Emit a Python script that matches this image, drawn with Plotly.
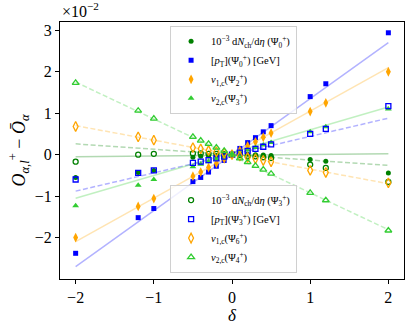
import plotly.graph_objects as go

# shift parameter delta and the response of each observable (units of 1e-2)
delta = [-2, -1.2, -1, -0.5, -0.4, -0.3, -0.2, -0.1, 0, 0.1, 0.2, 0.3, 0.4, 0.5, 1, 1.2, 2]

dndeta_psi0 = [-0.55, -0.43, -0.38, -0.06, -0.04, -0.03, -0.02, -0.01, 0, 0.01, 0.01, 0.0, -0.01, -0.02, -0.12, -0.16, -0.44]
pt_psi0 = [-2.38, -1.52, -1.30, -0.65, -0.55, -0.42, -0.28, -0.14, 0, 0.15, 0.29, 0.41, 0.55, 0.70, 1.40, 1.71, 2.94]
v1_psi2 = [-2.00, -1.25, -1.06, -0.52, -0.42, -0.31, -0.21, -0.10, 0, 0.10, 0.21, 0.31, 0.42, 0.52, 1.04, 1.25, 2.00]
v2_psi3 = [-1.23, -0.74, -0.60, -0.29, -0.23, -0.17, -0.11, -0.06, 0, 0.06, 0.11, 0.17, 0.23, 0.29, 0.55, 0.67, 1.10]

dndeta_psi3 = [-0.17, 0.0, 0.02, 0.03, 0.03, 0.02, 0.02, 0.01, 0, -0.01, -0.03, -0.04, -0.06, -0.08, -0.24, -0.32, -0.66]
pt_psi3 = [-0.60, -0.44, -0.38, -0.20, -0.17, -0.13, -0.09, -0.05, 0, 0.05, 0.09, 0.14, 0.19, 0.25, 0.50, 0.62, 1.17]
v1_psi6 = [0.68, 0.43, 0.35, 0.17, 0.14, 0.10, 0.07, 0.035, 0, -0.035, -0.07, -0.10, -0.14, -0.17, -0.38, -0.43, -0.68]
v2_psi4 = [1.73, 1.06, 0.87, 0.43, 0.34, 0.26, 0.17, 0.09, 0, -0.09, -0.18, -0.27, -0.36, -0.46, -0.92, -1.10, -1.83]

# linear response fits (slope, intercept)
fit_x = [-2, 2]
fits_filled = [(0.018, -0.015), (1.35, 0.0), (1.05, 0.0), (0.55, 0.05)]
fits_open = [(-0.13, 0.0), (0.44, 0.0), (-0.35, 0.0), (-0.89, -0.03)]

names_filled = [
    "10<sup>−3</sup> d<i>N</i><sub>ch</sub>/d<i>η</i> (Ψ<sub>0</sub><sup>+</sup>)",
    "[<i>p</i><sub>T</sub>](Ψ<sub>0</sub><sup>+</sup>) [GeV]",
    "<i>v</i><sub>1,c</sub>(Ψ<sub>2</sub><sup>+</sup>)",
    "<i>v</i><sub>2,c</sub>(Ψ<sub>3</sub><sup>+</sup>)",
]
names_open = [
    "10<sup>−3</sup> d<i>N</i><sub>ch</sub>/d<i>η</i> (Ψ<sub>3</sub><sup>+</sup>)",
    "[<i>p</i><sub>T</sub>](Ψ<sub>3</sub><sup>+</sup>) [GeV]",
    "<i>v</i><sub>1,c</sub>(Ψ<sub>6</sub><sup>+</sup>)",
    "<i>v</i><sub>2,c</sub>(Ψ<sub>4</sub><sup>+</sup>)",
]

colors = ["#008000", "#0000ff", "#ffa500", "#32cd32"]
line_colors = ["rgba(0,128,0,0.3)", "rgba(0,0,255,0.3)", "rgba(255,165,0,0.3)", "rgba(50,205,50,0.3)"]
symbols = ["circle", "square", "diamond-tall", "triangle-up"]
sizes = [5, 5, 7, 6]

filled = [dndeta_psi0, pt_psi0, v1_psi2, v2_psi3]
opened = [dndeta_psi3, pt_psi3, v1_psi6, v2_psi4]

FONT = "Liberation Serif"

fig = go.Figure()

# fit lines first so markers sit on top
for i in range(4):
    m, b = fits_filled[i]
    fig.add_trace(go.Scatter(x=fit_x, y=[m * x + b for x in fit_x], mode="lines",
                             line=dict(color=line_colors[i], width=1.5),
                             showlegend=False, hoverinfo="skip"))
    m, b = fits_open[i]
    fig.add_trace(go.Scatter(x=fit_x, y=[m * x + b for x in fit_x], mode="lines",
                             line=dict(color=line_colors[i], width=1.5, dash="5px,2.5px"),
                             showlegend=False, hoverinfo="skip"))

for i in range(4):
    fig.add_trace(go.Scatter(x=delta, y=filled[i], mode="markers", name=names_filled[i],
                             marker=dict(symbol=symbols[i], size=sizes[i], color=colors[i]),
                             legend="legend"))
for i in range(4):
    fig.add_trace(go.Scatter(x=delta, y=opened[i], mode="markers", name=names_open[i],
                             marker=dict(symbol=symbols[i] + "-open", size=sizes[i], color=colors[i],
                                         line=dict(width=1.3, color=colors[i])),
                             legend="legend2"))

legend_style = dict(bgcolor="rgba(255,255,255,0.8)", bordercolor="#d0d0d0", borderwidth=1,
                    font=dict(family=FONT, size=10.5, color="black"), xanchor="left",
                    tracegroupgap=0, itemwidth=30)

fig.update_layout(
    width=411, height=327,
    margin=dict(l=60, r=7, t=22, b=48),
    plot_bgcolor="white", paper_bgcolor="white",
    font=dict(family=FONT, size=16, color="black"),
    legend=dict(x=0.32, y=0.985, yanchor="top", **legend_style),
    legend2=dict(x=0.32, y=0.025, yanchor="bottom", **legend_style),
    xaxis=dict(range=[-2.2, 2.2], tickvals=[-2, -1, 0, 1, 2], ticktext=["−2", "−1", "0", "1", "2"],
               showgrid=False, zeroline=False, showline=True, linecolor="black", linewidth=1,
               mirror=True, ticks="outside", ticklen=4, tickcolor="black", automargin=False,
               title=dict(text="<i>δ</i>", standoff=2, font=dict(size=17))),
    yaxis=dict(range=[-3.0, 3.2], tickvals=[-2, -1, 0, 1, 2, 3], ticktext=["−2", "−1", "0", "1", "2", "3"],
               showgrid=False, zeroline=False, showline=True, linecolor="black", linewidth=1,
               mirror=True, ticks="outside", ticklen=4, tickcolor="black", automargin=False,
               title=dict(text="<i>O</i><sub><i>α,l</i></sub><sup>+</sup> − <i>Ō</i><sub><i>α</i></sub>",
                          standoff=4, font=dict(size=18))),
    annotations=[dict(text="×10<sup>−2</sup>", x=0, y=1, xref="paper", yref="paper",
                      xanchor="left", yanchor="bottom", showarrow=False,
                      font=dict(family=FONT, size=16))],
)

# drop the default body margin so the figure fills the window exactly
fig.write_html("out.html", config={"displayModeBar": False},
               post_script="document.body.style.margin='0';")
